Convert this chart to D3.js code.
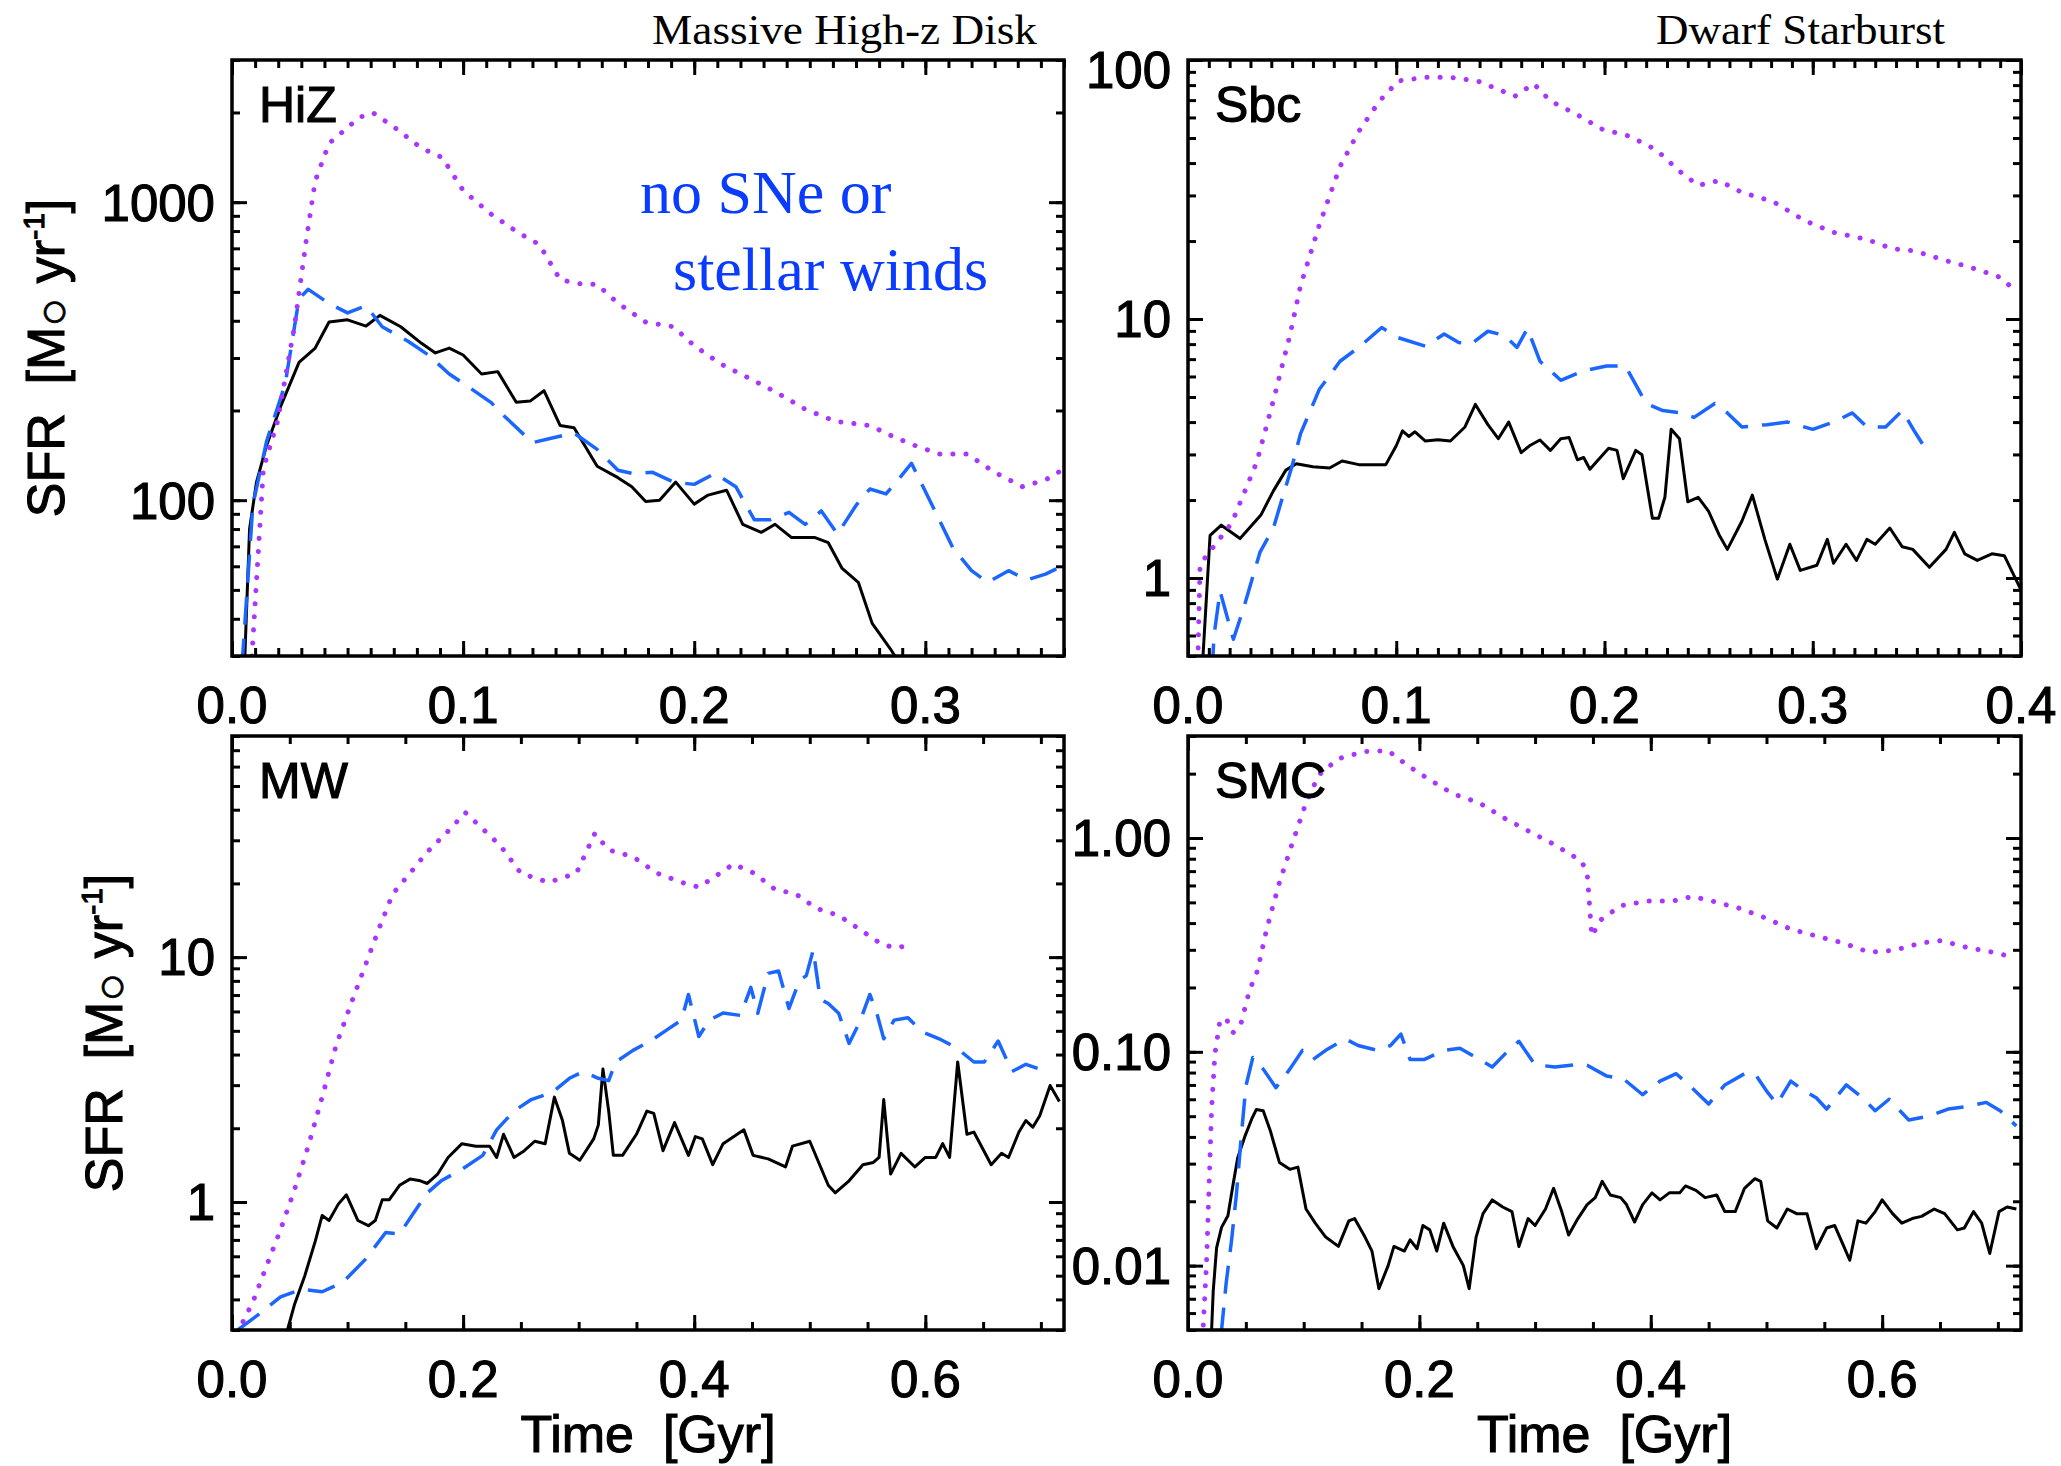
<!DOCTYPE html>
<html>
<head>
<meta charset="utf-8">
<script src="https://cdn.jsdelivr.net/npm/d3@7"></script>
<style>
  body { margin: 0; background: #fff; }
  svg text { font-family: "Liberation Sans", Arial, Helvetica, sans-serif; }
  .sans { stroke: #000; stroke-width: 1.1; }
</style>
</head>
<body>
<div id="chart"></div>
<script>
// ---- data: [time in Gyr, SFR in Msun/yr] ----
// solid = black, dashed = blue, dotted = purple

const hizSolid = [[0.005,20],[0.0055,29],[0.0076,80],[0.0106,115],[0.015,153],[0.021,206],[0.029,290],[0.036,324],[0.042,396],[0.05,403],[0.058,384],[0.064,417],[0.073,382],[0.082,336],[0.088,312],[0.094,324],[0.1,307],[0.108,265],[0.115,270],[0.123,213],[0.129,215],[0.135,233],[0.142,178],[0.148,175],[0.158,130],[0.167,119],[0.173,111],[0.179,99],[0.185,100],[0.192,115],[0.2,97],[0.206,104],[0.214,108],[0.221,83],[0.229,78],[0.235,83],[0.242,75],[0.252,75],[0.258,72],[0.264,59],[0.271,53],[0.277,38.6],[0.285,31.6],[0.288,29]]
const hizDashed = [[0.004,20],[0.0045,29],[0.009,96],[0.015,158],[0.023,245],[0.029,474],[0.033,510],[0.042,457],[0.05,425],[0.058,449],[0.065,382],[0.076,342],[0.085,307],[0.094,265],[0.103,238],[0.112,213],[0.118,191],[0.13,156],[0.139,162],[0.148,168],[0.158,148],[0.167,126],[0.173,123],[0.182,124],[0.191,115],[0.2,113],[0.209,123],[0.218,111],[0.226,86],[0.233,86],[0.241,91],[0.248,83],[0.255,92],[0.262,77],[0.27,96],[0.276,109],[0.283,105],[0.289,119],[0.294,133],[0.303,96],[0.312,69],[0.32,58],[0.327,53],[0.336,58],[0.344,54],[0.352,56.5],[0.359,60]]
const hizDotted = [[0.008,20],[0.0085,29],[0.0136,128],[0.0197,184],[0.027,382],[0.032,734],[0.036,1178],[0.042,1576],[0.048,1726],[0.055,1924],[0.061,1995],[0.07,1790],[0.082,1518],[0.091,1412],[0.1,1095],[0.112,913],[0.124,789],[0.133,721],[0.142,549],[0.152,530],[0.158,530],[0.167,458],[0.179,396],[0.191,382],[0.2,330],[0.212,285],[0.224,256],[0.236,229],[0.248,202],[0.261,184],[0.276,178],[0.285,165],[0.294,154],[0.306,143],[0.318,143],[0.33,124],[0.342,111],[0.352,117],[0.359,126]]

const sbcSolid = [[0.0068,0.3],[0.0072,0.5],[0.0106,1.46],[0.016,1.6],[0.025,1.42],[0.035,1.75],[0.041,2.17],[0.047,2.61],[0.052,2.76],[0.06,2.69],[0.068,2.66],[0.074,2.83],[0.082,2.74],[0.095,2.74],[0.1,3.24],[0.103,3.7],[0.106,3.52],[0.109,3.67],[0.114,3.38],[0.12,3.42],[0.126,3.38],[0.133,3.83],[0.138,4.68],[0.144,3.91],[0.149,3.45],[0.154,4.0],[0.16,3.05],[0.164,3.24],[0.169,3.41],[0.174,3.11],[0.179,3.45],[0.183,3.49],[0.187,2.86],[0.19,2.92],[0.193,2.63],[0.198,2.92],[0.202,3.17],[0.206,3.11],[0.209,2.42],[0.215,3.11],[0.218,2.99],[0.223,1.7],[0.226,1.7],[0.229,2.05],[0.232,3.75],[0.236,3.45],[0.24,1.97],[0.245,2.05],[0.25,1.81],[0.255,1.47],[0.259,1.29],[0.266,1.66],[0.271,2.09],[0.277,1.41],[0.283,0.99],[0.289,1.35],[0.294,1.07],[0.302,1.12],[0.307,1.41],[0.31,1.14],[0.316,1.35],[0.321,1.17],[0.326,1.41],[0.33,1.35],[0.337,1.56],[0.343,1.32],[0.348,1.29],[0.356,1.1],[0.364,1.29],[0.368,1.5],[0.373,1.24],[0.379,1.17],[0.386,1.24],[0.392,1.22],[0.398,0.97],[0.4,0.9]]
const sbcDashed = [[0.0105,0.3],[0.0125,0.6],[0.0154,0.89],[0.0218,0.58],[0.0266,0.76],[0.0346,1.26],[0.041,1.56],[0.0458,2.1],[0.05,2.71],[0.054,3.6],[0.063,5.34],[0.073,6.87],[0.082,7.77],[0.093,9.27],[0.101,8.47],[0.114,7.85],[0.123,8.75],[0.13,8.12],[0.136,8.0],[0.144,8.97],[0.152,8.65],[0.158,7.77],[0.163,9.2],[0.169,6.87],[0.179,5.8],[0.19,6.31],[0.201,6.59],[0.21,6.59],[0.22,4.72],[0.228,4.43],[0.237,4.34],[0.243,4.17],[0.253,4.72],[0.259,4.34],[0.266,3.83],[0.278,3.91],[0.288,4.0],[0.3,3.75],[0.31,4.0],[0.319,4.34],[0.326,3.83],[0.335,3.83],[0.343,4.43],[0.349,3.67],[0.354,3.17]]
const sbcDotted = [[0.0045,0.3],[0.0048,0.5],[0.0058,1.13],[0.021,1.63],[0.033,2.8],[0.041,4.85],[0.049,8.7],[0.054,13.4],[0.063,23],[0.073,38.8],[0.082,53],[0.092,69.5],[0.101,83],[0.114,85.7],[0.126,85.7],[0.139,83],[0.149,77],[0.157,72.5],[0.166,81],[0.174,69.5],[0.187,61.4],[0.199,54],[0.212,50.8],[0.225,44.9],[0.236,37.2],[0.245,32.8],[0.255,34.2],[0.266,30.8],[0.281,28.4],[0.296,24],[0.31,21.6],[0.326,20.3],[0.338,18.7],[0.349,18.3],[0.364,16.8],[0.376,15.8],[0.389,14.6],[0.398,12.8]]

const mwSolid = [[0.047,0.2],[0.048,0.3],[0.054,0.38],[0.063,0.5],[0.072,0.69],[0.078,0.88],[0.084,0.84],[0.092,0.98],[0.099,1.07],[0.109,0.84],[0.118,0.8],[0.124,0.84],[0.13,1.02],[0.136,1.02],[0.145,1.17],[0.154,1.24],[0.163,1.22],[0.169,1.19],[0.178,1.3],[0.187,1.52],[0.199,1.73],[0.211,1.69],[0.223,1.69],[0.229,1.52],[0.235,1.89],[0.244,1.52],[0.253,1.62],[0.262,1.77],[0.271,1.73],[0.279,2.68],[0.286,2.15],[0.292,1.58],[0.301,1.48],[0.313,1.81],[0.317,2.06],[0.321,3.49],[0.326,2.35],[0.33,1.55],[0.338,1.55],[0.35,1.89],[0.359,2.35],[0.365,2.3],[0.373,1.62],[0.383,2.11],[0.395,1.55],[0.401,1.85],[0.407,1.81],[0.416,1.42],[0.425,1.73],[0.443,1.97],[0.451,1.55],[0.464,1.5],[0.479,1.39],[0.485,1.69],[0.5,1.77],[0.516,1.17],[0.522,1.09],[0.534,1.22],[0.546,1.42],[0.555,1.45],[0.56,1.52],[0.564,2.62],[0.57,1.3],[0.579,1.58],[0.591,1.39],[0.6,1.52],[0.609,1.52],[0.615,1.73],[0.621,1.52],[0.628,3.73],[0.636,1.89],[0.642,1.93],[0.657,1.42],[0.666,1.58],[0.672,1.52],[0.681,1.93],[0.687,2.15],[0.693,2.02],[0.699,2.25],[0.708,2.99],[0.716,2.57]]
const mwDashed = [[0.004,0.2],[0.005,0.3],[0.024,0.35],[0.042,0.41],[0.06,0.44],[0.078,0.43],[0.096,0.47],[0.115,0.58],[0.133,0.75],[0.145,0.74],[0.157,0.9],[0.169,1.09],[0.181,1.22],[0.199,1.36],[0.217,1.55],[0.229,1.97],[0.244,2.35],[0.259,2.62],[0.277,2.8],[0.292,3.2],[0.304,3.41],[0.317,3.2],[0.326,3.13],[0.332,3.73],[0.347,4.16],[0.362,4.54],[0.377,5.07],[0.389,5.53],[0.395,7.04],[0.404,4.74],[0.413,5.53],[0.425,5.91],[0.44,5.78],[0.449,7.52],[0.455,5.9],[0.464,8.58],[0.473,8.77],[0.482,6.17],[0.491,8.03],[0.497,8.4],[0.503,10.7],[0.509,6.74],[0.516,6.46],[0.525,5.9],[0.534,4.44],[0.543,5.41],[0.552,7.04],[0.558,5.9],[0.564,4.64],[0.573,5.53],[0.585,5.65],[0.597,4.96],[0.612,4.64],[0.627,4.26],[0.642,3.73],[0.651,3.73],[0.663,4.54],[0.675,3.41],[0.687,3.65],[0.699,3.49]]
const mwDotted = [[0.005,0.2],[0.006,0.3],[0.018,0.39],[0.03,0.55],[0.042,0.77],[0.054,1.12],[0.066,1.69],[0.078,2.68],[0.09,4.35],[0.103,6.45],[0.115,9.16],[0.127,13],[0.139,18.1],[0.154,22],[0.169,26.9],[0.187,32.7],[0.202,38.9],[0.217,33.4],[0.232,28.6],[0.25,22],[0.274,20.2],[0.298,22],[0.314,32],[0.326,27.4],[0.347,25.7],[0.368,22],[0.389,20.2],[0.404,19.3],[0.419,21.5],[0.434,24],[0.452,22],[0.47,18.9],[0.488,18.1],[0.506,15.8],[0.525,14.8],[0.543,13],[0.561,11.4],[0.573,10.9],[0.588,11.2]]

const smcSolid = [[0.0195,0.003],[0.0204,0.005],[0.0218,0.0076],[0.0247,0.0121],[0.029,0.0151],[0.0345,0.0171],[0.039,0.024],[0.043,0.032],[0.049,0.04],[0.055,0.0484],[0.059,0.0537],[0.065,0.053],[0.071,0.043],[0.079,0.0304],[0.088,0.0282],[0.095,0.0289],[0.102,0.0184],[0.11,0.0158],[0.119,0.0136],[0.13,0.0123],[0.139,0.0162],[0.144,0.0166],[0.153,0.0136],[0.159,0.0117],[0.165,0.0078],[0.173,0.01],[0.178,0.0123],[0.187,0.0117],[0.192,0.0132],[0.198,0.012],[0.203,0.0154],[0.209,0.0147],[0.215,0.0117],[0.221,0.0158],[0.229,0.0123],[0.238,0.01],[0.243,0.0078],[0.249,0.0136],[0.255,0.0175],[0.263,0.0203],[0.272,0.0188],[0.28,0.0179],[0.286,0.0123],[0.294,0.0166],[0.3,0.0154],[0.309,0.0184],[0.316,0.023],[0.323,0.0179],[0.329,0.0139],[0.337,0.0166],[0.345,0.0193],[0.352,0.0208],[0.358,0.0248],[0.365,0.0214],[0.374,0.0208],[0.379,0.0193],[0.386,0.016],[0.393,0.0193],[0.401,0.0219],[0.408,0.0203],[0.416,0.0219],[0.425,0.0219],[0.43,0.0236],[0.439,0.0225],[0.447,0.0208],[0.457,0.0214],[0.464,0.0179],[0.473,0.0179],[0.481,0.023],[0.49,0.0255],[0.495,0.0248],[0.501,0.0162],[0.509,0.015],[0.518,0.0184],[0.526,0.0175],[0.535,0.0175],[0.543,0.012],[0.552,0.015],[0.559,0.0154],[0.566,0.0126],[0.572,0.0106],[0.579,0.0162],[0.586,0.0158],[0.594,0.0179],[0.6,0.0203],[0.609,0.0175],[0.617,0.0158],[0.626,0.0166],[0.634,0.017],[0.645,0.0184],[0.654,0.0175],[0.665,0.0147],[0.671,0.015],[0.679,0.0179],[0.686,0.0158],[0.693,0.0114],[0.701,0.0179],[0.708,0.0188],[0.716,0.0184]]
const smcDashed = [[0.028,0.003],[0.029,0.005],[0.033,0.0083],[0.0377,0.0132],[0.042,0.022],[0.046,0.04],[0.05,0.069],[0.056,0.094],[0.065,0.083],[0.076,0.068],[0.088,0.083],[0.099,0.1016],[0.108,0.092],[0.119,0.1016],[0.136,0.115],[0.147,0.107],[0.164,0.1016],[0.175,0.107],[0.184,0.121],[0.192,0.092],[0.204,0.092],[0.221,0.1016],[0.235,0.104],[0.249,0.094],[0.263,0.085],[0.275,0.099],[0.286,0.112],[0.3,0.087],[0.317,0.085],[0.334,0.087],[0.345,0.0865],[0.362,0.077],[0.376,0.075],[0.393,0.063],[0.408,0.073],[0.422,0.079],[0.433,0.07],[0.45,0.057],[0.464,0.07],[0.481,0.079],[0.49,0.079],[0.501,0.0646],[0.509,0.057],[0.521,0.073],[0.532,0.066],[0.543,0.061],[0.552,0.054],[0.569,0.07],[0.583,0.061],[0.594,0.053],[0.606,0.06],[0.623,0.048],[0.64,0.05],[0.657,0.054],[0.674,0.0556],[0.69,0.058],[0.702,0.053],[0.716,0.045]]
const smcDotted = [[0.012,0.003],[0.013,0.005],[0.016,0.0102],[0.0204,0.054],[0.0233,0.098],[0.0276,0.14],[0.033,0.143],[0.039,0.123],[0.046,0.137],[0.053,0.193],[0.06,0.239],[0.068,0.375],[0.079,0.62],[0.091,0.975],[0.102,1.46],[0.113,1.97],[0.13,2.35],[0.153,2.54],[0.173,2.56],[0.19,2.18],[0.209,1.87],[0.229,1.61],[0.252,1.46],[0.272,1.25],[0.294,1.08],[0.317,0.93],[0.34,0.78],[0.345,0.69],[0.349,0.348],[0.357,0.415],[0.374,0.482],[0.396,0.507],[0.419,0.507],[0.436,0.533],[0.453,0.507],[0.476,0.47],[0.498,0.425],[0.521,0.375],[0.543,0.348],[0.566,0.323],[0.589,0.292],[0.611,0.299],[0.634,0.323],[0.651,0.331],[0.674,0.307],[0.696,0.292],[0.713,0.277]]

// axis ticks / labels per panel
const hizXTicks = [0, 0.1, 0.2, 0.3]
const sbcXTicks = [0, 0.1, 0.2, 0.3, 0.4]
const lowXTicks = [0, 0.2, 0.4, 0.6]
const hizYTicks = [100, 1000]
const sbcYTicks = [1, 10, 100]
const mwYTicks = [1, 10]
const smcYTicks = [0.01, 0.1, 1]
const hizYLabels = ["100", "1000"]
const sbcYLabels = ["1", "10", "100"]
const mwYLabels = ["1", "10"]
const smcYLabels = ["0.01", "0.10", "1.00"]

const W = 2061, H = 1466
const svg = d3.select("#chart").append("svg").attr("width", W).attr("height", H)

const panels = [
    { name: "HiZ", left: 232, right: 1064, top: 60, bottom: 656, xmax: 0.36, xminor: 0.01,
      xticks: hizXTicks, ylim: [30, 3000], yticks: hizYTicks, ylabels: hizYLabels,
      lines: [hizSolid, hizDashed, hizDotted], ytitleX: 64, xtitle: false },
    { name: "Sbc", left: 1188, right: 2021, top: 60, bottom: 656, xmax: 0.4, xminor: 0.01,
      xticks: sbcXTicks, ylim: [0.5, 100], yticks: sbcYTicks, ylabels: sbcYLabels,
      lines: [sbcSolid, sbcDashed, sbcDotted], ytitleX: null, xtitle: false },
    { name: "MW", left: 232, right: 1064, top: 736, bottom: 1330, xmax: 0.72, xminor: 0.05,
      xticks: lowXTicks, ylim: [0.3, 80], yticks: mwYTicks, ylabels: mwYLabels,
      lines: [mwSolid, mwDashed, mwDotted], ytitleX: 122, xtitle: true },
    { name: "SMC", left: 1188, right: 2021, top: 736, bottom: 1330, xmax: 0.72, xminor: 0.05,
      xticks: lowXTicks, ylim: [0.005, 3], yticks: smcYTicks, ylabels: smcYLabels,
      lines: [smcSolid, smcDashed, smcDotted], ytitleX: null, xtitle: true }
]

// black solid, blue dashed, purple dotted
const lineStyles = [
    { stroke: "#000000", width: 3, dash: null, cap: "butt" },
    { stroke: "#1a66ff", width: 3.5, dash: "28,14", cap: "butt" },
    { stroke: "#a836ff", width: 5, dash: "0.1,13", cap: "round" }
]

// minor ticks of a log axis: 1..9 x 10^k inside the domain
function logTicks(lim) {
    var out = []
    for (let k = Math.floor(Math.log10(lim[0])); k <= Math.ceil(Math.log10(lim[1])); k++) {
        for (let m = 1; m < 10; m++) {
            let v = m * Math.pow(10, k)
            if (v >= lim[0] * 0.999 && v <= lim[1] * 1.001) out.push(v)
        }
    }
    return out
}

function styleAxis(g) {
    g.select(".domain").remove()
    g.selectAll(".tick line").attr("stroke", "#000").attr("stroke-width", 3)
}

function drawPanel(p) {
    const g = svg.append("g").attr("id", "panel-" + p.name)
    const x = d3.scaleLinear().domain([0, p.xmax]).range([p.left, p.right])
    const y = d3.scaleLog().domain(p.ylim).range([p.bottom, p.top])

    const clipId = "clip-" + p.name
    svg.append("clipPath").attr("id", clipId).append("rect")
        .attr("x", p.left).attr("y", p.top)
        .attr("width", p.right - p.left).attr("height", p.bottom - p.top)

    // curves
    const line = d3.line().x(d => x(d[0])).y(d => y(d[1]))
    p.lines.forEach((data, i) => {
        const s = lineStyles[i]
        g.append("path")
            .datum(data)
            .attr("clip-path", `url(#${clipId})`)
            .attr("d", line)
            .attr("fill", "none")
            .attr("stroke", s.stroke)
            .attr("stroke-width", s.width)
            .attr("stroke-linecap", s.cap)
            .attr("stroke-linejoin", "round")
            .attr("stroke-dasharray", s.dash)
    })

    // ticks on all four sides, pointing inwards
    const xMinor = d3.range(0, p.xmax + 1e-9, p.xminor)
    const yMinor = logTicks(p.ylim)
    const sides = [
        [d3.axisBottom, x, `translate(0,${p.bottom})`, xMinor, p.xticks],
        [d3.axisTop, x, `translate(0,${p.top})`, xMinor, p.xticks],
        [d3.axisLeft, y, `translate(${p.left},0)`, yMinor, p.yticks],
        [d3.axisRight, y, `translate(${p.right},0)`, yMinor, p.yticks]
    ]
    sides.forEach(([axisFn, scale, tr, minor, major]) => {
        g.append("g").attr("transform", tr)
            .call(axisFn(scale).tickValues(minor).tickSize(-8).tickFormat(""))
            .call(styleAxis)
        g.append("g").attr("transform", tr)
            .call(axisFn(scale).tickValues(major).tickSize(-15).tickFormat(""))
            .call(styleAxis)
    })

    // frame
    g.append("rect")
        .attr("x", p.left).attr("y", p.top)
        .attr("width", p.right - p.left).attr("height", p.bottom - p.top)
        .attr("fill", "none").attr("stroke", "#000").attr("stroke-width", 3.5)

    // tick labels
    g.selectAll(".xlab").data(p.xticks).join("text")
        .attr("class", "sans")
        .attr("x", d => x(d))
        .attr("y", p.bottom + 67)
        .attr("text-anchor", "middle")
        .attr("font-size", 51)
        .text(d => d.toFixed(1))
    g.selectAll(".ylab").data(p.yticks).join("text")
        .attr("class", "sans")
        .attr("x", p.left - 17)
        .attr("y", d => Math.max(y(d), p.top + 10))
        .attr("dy", "0.36em")
        .attr("text-anchor", "end")
        .attr("font-size", 51)
        .text((d, i) => p.ylabels[i])

    // panel name
    g.append("text")
        .attr("class", "sans")
        .attr("x", p.left + 27).attr("y", p.top + 62)
        .attr("font-size", 50)
        .text(p.name)

    // axis titles
    if (p.ytitleX !== null) {
        const t = g.append("text")
            .attr("class", "sans")
            .attr("transform", `translate(${p.ytitleX},${(p.top + p.bottom) / 2}) rotate(-90)`)
            .attr("text-anchor", "middle")
            .attr("font-size", 52)
        t.append("tspan").text("SFR\u00a0\u00a0[M")
        t.append("tspan").attr("font-size", 48).attr("dy", 5).style("stroke-width", 0.8).text("\u25cb")
        t.append("tspan").attr("dy", -5).text("\u00a0yr")
        t.append("tspan").attr("font-size", 30).attr("dy", -20).text("-1")
        t.append("tspan").attr("dy", 20).text("]")
    }
    if (p.xtitle) {
        g.append("text")
            .attr("class", "sans")
            .attr("x", (p.left + p.right) / 2).attr("y", 1452)
            .attr("text-anchor", "middle")
            .attr("font-size", 52)
            .text("Time\u00a0\u00a0[Gyr]")
    }
}

panels.forEach(drawPanel)

// serif annotations
const serif = "'Liberation Serif', 'Times New Roman', Times, serif"
svg.append("text").attr("x", 652).attr("y", 44)
    .style("font-family", serif).attr("font-size", 42)
    .attr("textLength", 385).attr("lengthAdjust", "spacingAndGlyphs")
    .text("Massive High-z Disk")
svg.append("text").attr("x", 1656).attr("y", 44)
    .style("font-family", serif).attr("font-size", 42)
    .attr("textLength", 289).attr("lengthAdjust", "spacingAndGlyphs")
    .text("Dwarf Starburst")
svg.append("text").attr("x", 640).attr("y", 213)
    .style("font-family", serif).attr("font-size", 62).attr("fill", "#0a3cff")
    .text("no SNe or")
svg.append("text").attr("x", 673).attr("y", 290)
    .style("font-family", serif).attr("font-size", 62).attr("fill", "#0a3cff")
    .text("stellar winds")
</script>
</body>
</html>
